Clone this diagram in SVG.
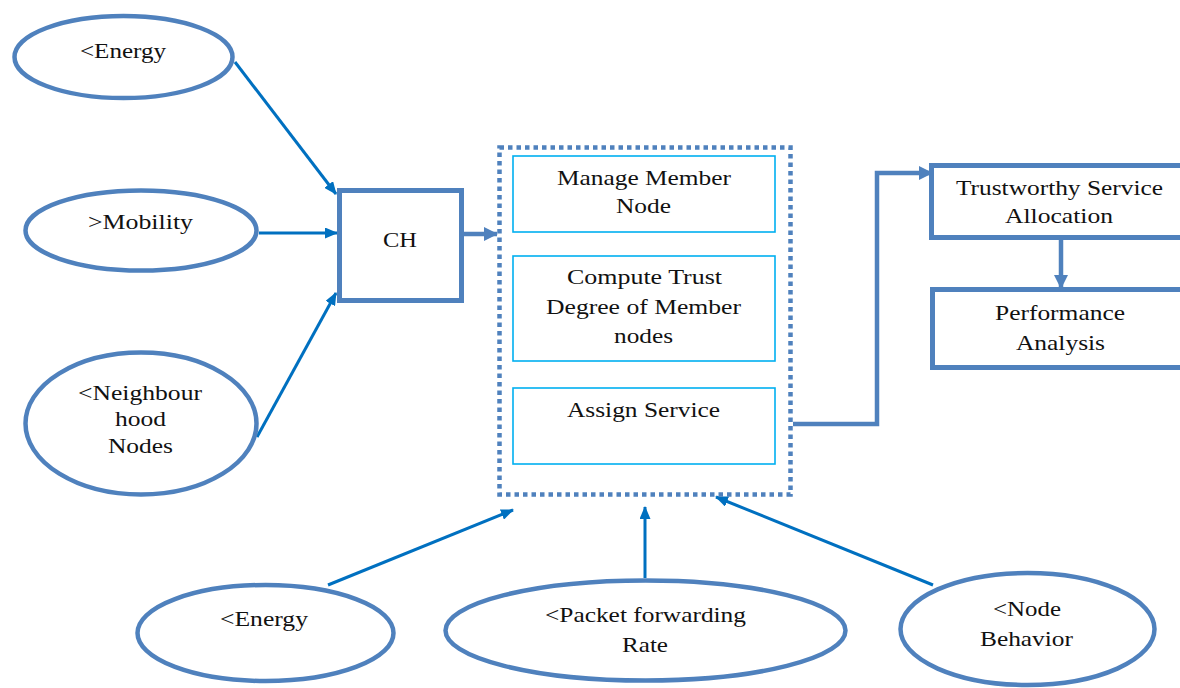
<svg xmlns="http://www.w3.org/2000/svg" width="1180" height="688" viewBox="0 0 1180 688">
  <defs>
    <style>
      .oval { fill: #ffffff; stroke: #4f81bd; stroke-width: 4.5; }
      .box { fill: #ffffff; stroke: #4f81bd; stroke-width: 5; }
      .inner { fill: #ffffff; stroke: #00b0f0; stroke-width: 1.6; }
      .group { fill: none; stroke: #4f81bd; stroke-width: 4.5; stroke-dasharray: 4.5 4; }
      .link { fill: none; stroke: #0070c0; stroke-width: 3; }
      .flow { fill: none; stroke: #4f81bd; stroke-width: 4.5; }
      text { font-family: "Liberation Serif", "Times New Roman", serif; font-size: 22px; fill: #111111; text-anchor: middle; }
    </style>
    <marker id="head" markerUnits="userSpaceOnUse" markerWidth="13" markerHeight="11" refX="12" refY="5.5" orient="auto">
      <path d="M0,0 L13,5.5 L0,11 z" fill="#0070c0"/>
    </marker>
    <marker id="headWide" markerUnits="userSpaceOnUse" markerWidth="14" markerHeight="14" refX="13" refY="7" orient="auto">
      <path d="M0,0 L14,7 L0,14 z" fill="#4f81bd"/>
    </marker>
  </defs>

  <rect width="1180" height="688" fill="#ffffff"/>

  <!-- connectors -->
  <g id="connectors">
    <path class="link" d="M235,62 L336,194" marker-end="url(#head)"/>
    <path class="link" d="M259,233 L337,233" marker-end="url(#head)"/>
    <path class="link" d="M257,437 L336,293" marker-end="url(#head)"/>
    <path class="flow" d="M464,234 L497,234" marker-end="url(#headWide)"/>
    <path class="flow" d="M793,424 H877 V173 H932" marker-end="url(#headWide)"/>
    <path class="flow" d="M1061,240 V288" marker-end="url(#headWide)"/>
    <path class="link" d="M328,585 L513,510" marker-end="url(#head)"/>
    <path class="link" d="M645,578 V507" marker-end="url(#head)"/>
    <path class="link" d="M933,585 L716,497" marker-end="url(#head)"/>
  </g>

  <!-- input ovals feeding the cluster head -->
  <g id="energy-top">
    <ellipse class="oval" cx="123.5" cy="57" rx="109" ry="41"/>
    <text x="123" y="58" textLength="86" lengthAdjust="spacingAndGlyphs">&lt;Energy</text>
  </g>
  <g id="mobility">
    <ellipse class="oval" cx="141" cy="230.5" rx="115.5" ry="40"/>
    <text x="140.5" y="229" textLength="105" lengthAdjust="spacingAndGlyphs">&gt;Mobility</text>
  </g>
  <g id="neighbourhood">
    <ellipse class="oval" cx="141" cy="423.5" rx="115.5" ry="71"/>
    <text x="140" y="400" textLength="124" lengthAdjust="spacingAndGlyphs">&lt;Neighbour</text>
    <text x="140.5" y="426" textLength="51" lengthAdjust="spacingAndGlyphs">hood</text>
    <text x="140.5" y="453" textLength="65" lengthAdjust="spacingAndGlyphs">Nodes</text>
  </g>

  <!-- cluster head -->
  <g id="ch">
    <rect class="box" x="339.5" y="190.5" width="122" height="110"/>
    <text x="400" y="247" textLength="34" lengthAdjust="spacingAndGlyphs">CH</text>
  </g>

  <!-- cluster head tasks -->
  <g id="ch-tasks">
    <rect class="group" x="499.5" y="147.5" width="291" height="347"/>
  </g>
  <g id="manage-member">
    <rect class="inner" x="513" y="156" width="262" height="76"/>
    <text x="644" y="185" textLength="174" lengthAdjust="spacingAndGlyphs">Manage Member</text>
    <text x="643.5" y="213" textLength="55" lengthAdjust="spacingAndGlyphs">Node</text>
  </g>
  <g id="compute-trust">
    <rect class="inner" x="513" y="256" width="262" height="105"/>
    <text x="644.5" y="284" textLength="155" lengthAdjust="spacingAndGlyphs">Compute Trust</text>
    <text x="643.5" y="314" textLength="195" lengthAdjust="spacingAndGlyphs">Degree of Member</text>
    <text x="643.5" y="343" textLength="59" lengthAdjust="spacingAndGlyphs">nodes</text>
  </g>
  <g id="assign-service">
    <rect class="inner" x="513" y="388" width="262" height="76"/>
    <text x="643.5" y="417" textLength="153" lengthAdjust="spacingAndGlyphs">Assign Service</text>
  </g>

  <!-- outcome -->
  <g id="allocation">
    <rect class="box" x="931.5" y="165.5" width="270" height="72"/>
    <text x="1059.5" y="195" textLength="207" lengthAdjust="spacingAndGlyphs">Trustworthy Service</text>
    <text x="1059" y="223" textLength="108" lengthAdjust="spacingAndGlyphs">Allocation</text>
  </g>
  <g id="performance">
    <rect class="box" x="932.5" y="289.5" width="270" height="78"/>
    <text x="1060" y="320" textLength="130" lengthAdjust="spacingAndGlyphs">Performance</text>
    <text x="1060.5" y="350" textLength="89" lengthAdjust="spacingAndGlyphs">Analysis</text>
  </g>

  <!-- input ovals feeding the task block -->
  <g id="energy-bottom">
    <ellipse class="oval" cx="265.5" cy="633" rx="128" ry="48"/>
    <text x="264" y="626" textLength="88" lengthAdjust="spacingAndGlyphs">&lt;Energy</text>
  </g>
  <g id="packet-rate">
    <ellipse class="oval" cx="645.5" cy="630.5" rx="200" ry="50"/>
    <text x="645.5" y="622" textLength="201" lengthAdjust="spacingAndGlyphs">&lt;Packet forwarding</text>
    <text x="645" y="652" textLength="46" lengthAdjust="spacingAndGlyphs">Rate</text>
  </g>
  <g id="node-behavior">
    <ellipse class="oval" cx="1027.5" cy="629" rx="127" ry="56"/>
    <text x="1027" y="616" textLength="68" lengthAdjust="spacingAndGlyphs">&lt;Node</text>
    <text x="1026.5" y="646" textLength="93" lengthAdjust="spacingAndGlyphs">Behavior</text>
  </g>
</svg>
